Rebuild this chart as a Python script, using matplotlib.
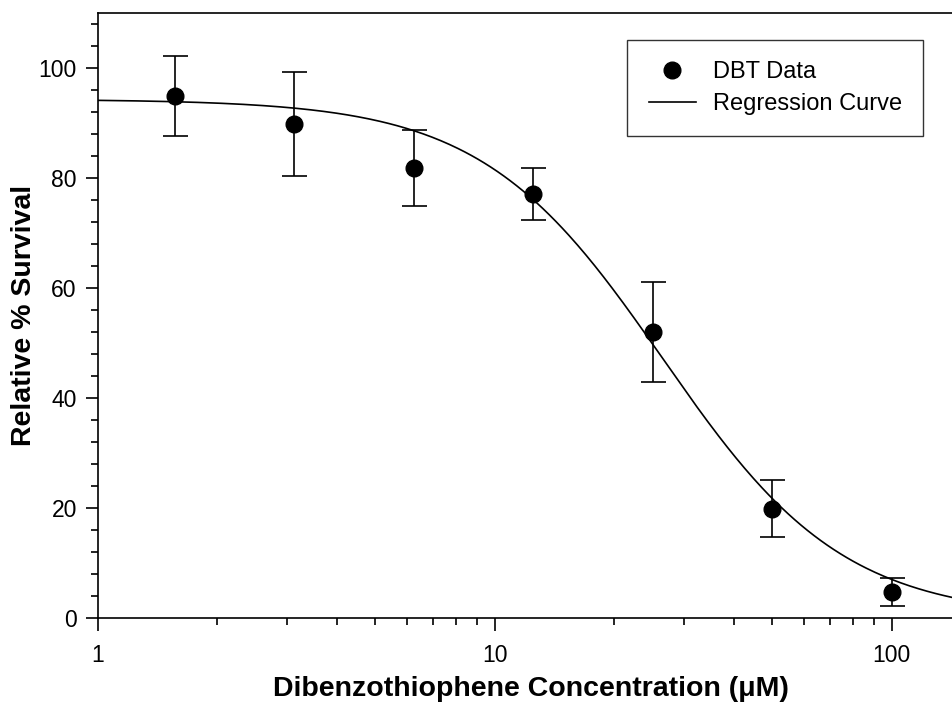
import numpy as np
import matplotlib.pyplot as plt
from matplotlib.lines import Line2D
from matplotlib.ticker import LogLocator, FixedLocator, NullFormatter

plt.rcParams['font.family'] = ['Liberation Sans', 'DejaVu Sans']

# DBT exposure data
conc = [1.5625, 3.125, 6.25, 12.5, 25, 50, 100]
survival = [94.9, 89.8, 81.8, 77.1, 52.0, 19.9, 4.7]
err = [7.3, 9.5, 6.9, 4.8, 9.1, 5.2, 2.5]

# four-parameter logistic fit (top, bottom, EC50, Hill slope)
top, bottom, ec50, hill = 94.3, 0.0, 26.5, 1.9

fig = plt.figure(figsize=(9.52, 7.02), dpi=100)
# axes run a little past the right edge of the figure
ax = fig.add_axes([0.1026, 0.1197, 0.91, 0.8618])

xc = np.logspace(0, np.log10(152), 400)
yc = bottom + (top - bottom) / (1 + (xc / ec50) ** hill)
ax.plot(xc, yc, color='black', lw=1.2)

ax.errorbar(conc, survival, yerr=err, fmt='o', color='black', ms=12,
            elinewidth=1.2, capsize=9, capthick=1.2)

ax.set_xscale('log')
ax.set_xlim(1, 152)
ax.set_ylim(0, 110)
ax.set_yticks([0, 20, 40, 60, 80, 100])
ax.yaxis.set_minor_locator(FixedLocator(np.arange(0, 110, 4)))
ax.xaxis.set_minor_locator(LogLocator(base=10, subs=np.arange(2, 10)))
ax.xaxis.set_minor_formatter(NullFormatter())
ax.set_xticks([1, 10, 100])
ax.set_xticklabels(['1', '10', '100'])

ax.tick_params(which='major', direction='out', length=9, width=1.2,
               labelsize=16.5, pad=6)
ax.tick_params(which='minor', direction='out', length=5, width=1.2)
ax.tick_params(axis='x', which='major', pad=10)
for s in ['left', 'bottom', 'top']:
    ax.spines[s].set_linewidth(1.2)
ax.spines['right'].set_visible(False)

ax.set_xlabel('Dibenzothiophene Concentration (\u03bcM)', fontsize=20.5,
              fontweight='bold', labelpad=6)
ax.set_ylabel('Relative % Survival', fontsize=20.5, fontweight='bold',
              labelpad=1)

handles = [Line2D([], [], ls='none', marker='o', ms=12, color='black'),
           Line2D([], [], color='black', lw=1.2)]
leg = ax.legend(handles, ['DBT Data', 'Regression Curve'], loc='upper right',
                bbox_to_anchor=(0.953, 0.955), fontsize=17, frameon=True,
                fancybox=False, edgecolor='black', borderpad=0.9,
                handlelength=2.0, handletextpad=0.72, labelspacing=0.4,
                borderaxespad=0)
leg.get_frame().set_linewidth(1.0)

fig.savefig('out.png', dpi=100)
